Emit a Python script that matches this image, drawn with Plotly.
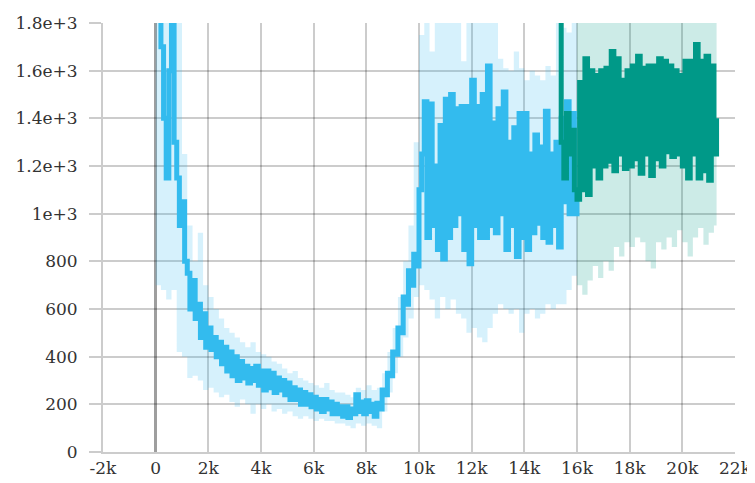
import plotly.graph_objects as go

# ---------------- data ----------------
blue_start, blue_step = 0, 100
blue_vals = [
    2000, 1900, 1700, 1400, 1150, 1600, 1850, 1300, 1150, 950,      # 0 - 900
    1050, 800, 750, 600, 720, 560, 620, 480, 580, 440,            # 1000 - 1900
    520, 430, 480, 400, 460, 370, 440, 340, 420, 320,             # 2000 - 2900
    400, 300, 380, 310, 360, 290, 350, 300, 360, 280,             # 3000 - 3900
    340, 260, 340, 270, 330, 250, 310, 260, 300, 240,             # 4000 - 4900
    290, 220, 270, 220, 260, 200, 250, 200, 240, 190,             # 5000 - 5900
    230, 180, 220, 170, 220, 180, 210, 160, 200, 160,             # 6000 - 6900
    190, 150, 190, 145, 180, 160, 240, 170, 210, 160,             # 7000 - 7900
    215, 170, 200, 150, 205, 180, 260, 240, 330, 320,             # 8000 - 8900
    420, 410, 520, 500, 650, 620, 760, 700, 830, 780,             # 9000 - 9900
    1100, 1250, 1470, 900, 1460, 950, 1200, 850, 1370, 810,       # 10000 - 10900
    1480, 900, 1500, 950, 1440, 1000, 1450, 850, 1450, 790,       # 11000 - 11900
    1560, 950, 1450, 900, 1500, 900, 1620, 950, 1380, 920,        # 12000 - 12900
    1440, 1000, 1510, 850, 1300, 950, 1360, 820, 1420, 900,       # 13000 - 13900
    1420, 850, 1250, 920, 1330, 960, 1280, 900, 1430, 880,        # 14000 - 14900
    1250, 950, 1300, 860, 1400, 1050, 1470, 1000, 1420, 1000,     # 15000 - 15900
    1100,                                                         # 16000
]

band_step = 200
blue_band_lo = [
    700, 680, 640, 680, 420, 400, 310, 320, 300, 260,             # 0 - 1800
    270, 250, 230, 240, 210, 190, 220, 200, 160, 200,             # 2000 - 3800
    180, 200, 170, 180, 160, 170, 150, 140, 150, 140,             # 4000 - 5800
    130, 140, 130, 130, 120, 120, 110, 100, 120, 110,             # 6000 - 7800
    120, 110, 100, 170, 250, 330, 400, 480, 560, 650,             # 8000 - 9800
    700, 680, 640, 560, 650, 600, 640, 580, 560, 500,             # 10000 - 11800
    520, 480, 460, 520, 580, 620, 600, 580, 600, 500,             # 12000 - 13800
    580, 600, 560, 580, 620, 600, 620, 620, 680, 740,             # 14000 - 15800
    760,                                                          # 16000
]
blue_band_hi = [
    2000, 2000, 2000, 2000, 2000, 1250, 950, 800, 920, 700,       # 0 - 1800
    650, 600, 560, 520, 500, 480, 460, 440, 460, 420,             # 2000 - 3800
    410, 400, 380, 370, 350, 330, 340, 310, 300, 290,             # 4000 - 5800
    280, 270, 290, 260, 250, 250, 240, 230, 270, 260,             # 6000 - 7800
    280, 260, 270, 330, 420, 520, 650, 800, 950, 1300,            # 8000 - 9800
    1750, 2000, 1680, 2000, 2000, 2000, 2000, 2000, 1640, 2000,   # 10000 - 11800
    2000, 2000, 2000, 2000, 2000, 1650, 1610, 1600, 1680, 1610,   # 12000 - 13800
    1560, 1600, 1580, 1560, 1620, 1580, 2000, 1780, 1760, 1800,   # 14000 - 15800
    1800,                                                         # 16000
]

green_start, green_step = 15300, 100
green_vals = [
    2000, 1300, 1150, 1420, 1250, 1350, 1100,                     # 15300 - 15900
    1060, 1550, 1100, 1650, 1080, 1600, 1200, 1580, 1150, 1600,   # 16000 - 16900
    1200, 1610, 1220, 1680, 1180, 1650, 1250, 1560, 1190, 1600,   # 17000 - 17900
    1200, 1620, 1230, 1660, 1170, 1610, 1250, 1620, 1160, 1620,   # 18000 - 18900
    1230, 1650, 1200, 1640, 1260, 1620, 1240, 1600, 1250, 1580,   # 19000 - 19900
    1200, 1640, 1150, 1640, 1250, 1710, 1150, 1640, 1180, 1660,   # 20000 - 20900
    1140, 1620, 1250, 1400,                                       # 21000 - 21300
]

green_band_start = 16000
green_band_lo = [
    700, 660, 720, 780, 730, 800, 760, 860, 820, 880,             # 16000 - 17800
    860, 900, 880, 800, 770, 880, 850, 900, 860, 930,             # 18000 - 19800
    880, 820, 900, 940, 870, 920, 950, 960,                       # 20000 - 21400
]
green_band_hi = [2000] * len(green_band_lo)

x_ticks = [-2000, 0, 2000, 4000, 6000, 8000, 10000, 12000, 14000, 16000, 18000, 20000, 22000]
x_labels = ["-2k", "0", "2k", "4k", "6k", "8k", "10k", "12k", "14k", "16k", "18k", "20k", "22k"]
y_ticks = [0, 200, 400, 600, 800, 1000, 1200, 1400, 1600, 1800]
y_labels = ["0", "200", "400", "600", "800", "1e+3", "1.2e+3", "1.4e+3", "1.6e+3", "1.8e+3"]

# ---------------- build ----------------
blue_x = [blue_start + i * blue_step for i in range(len(blue_vals))]
bband_x = [i * band_step for i in range(len(blue_band_lo))]
green_x = [green_start + i * green_step for i in range(len(green_vals))]
gband_x = [min(green_band_start + i * band_step, 21300) for i in range(len(green_band_lo))]

BLUE = "#33bbee"
GREEN = "#009988"

fig = go.Figure()
fig.add_trace(go.Scatter(x=bband_x, y=blue_band_lo, mode="lines", line=dict(width=0, shape="hv"),
                         hoverinfo="skip", showlegend=False))
fig.add_trace(go.Scatter(x=bband_x, y=blue_band_hi, mode="lines", line=dict(width=0, shape="hv"),
                         fill="tonexty", fillcolor="rgba(51,187,238,0.2)", hoverinfo="skip", showlegend=False))
fig.add_trace(go.Scatter(x=gband_x, y=green_band_lo, mode="lines", line=dict(width=0, shape="hv"),
                         hoverinfo="skip", showlegend=False))
fig.add_trace(go.Scatter(x=gband_x, y=green_band_hi, mode="lines", line=dict(width=0, shape="hv"),
                         fill="tonexty", fillcolor="rgba(0,153,136,0.2)", hoverinfo="skip", showlegend=False))
fig.add_trace(go.Scatter(x=blue_x, y=blue_vals, mode="lines", line=dict(color=BLUE, width=5, shape="hv"),
                         showlegend=False))
fig.add_trace(go.Scatter(x=green_x, y=green_vals, mode="lines", line=dict(color=GREEN, width=5, shape="hv"),
                         showlegend=False))

GRID = "rgba(0,0,0,0.2)"
FONT = dict(family="DejaVu Serif", size=17, color="#333333")

# the page body adds an 8px offset; the figure is sized so the plot lands where the reference has it
fig.update_layout(
    width=747, height=475,
    margin=dict(l=95, r=20, t=15, b=31, autoexpand=False),
    plot_bgcolor="white", paper_bgcolor="white",
    font=FONT,
    showlegend=False,
)
fig.update_xaxes(
    range=[-2000, 22000], tickvals=x_ticks, ticktext=x_labels,
    showgrid=True, gridcolor=GRID, gridwidth=2,
    zeroline=True, zerolinecolor="rgba(0,0,0,0.38)", zerolinewidth=3,
    showline=True, linecolor=GRID, linewidth=2,
    ticks="", layer="above traces", tickfont=FONT, automargin=False,
)
fig.update_yaxes(
    range=[0, 1800], tickvals=y_ticks, ticktext=y_labels,
    showgrid=True, gridcolor=GRID, gridwidth=2,
    zeroline=False,
    showline=True, linecolor=GRID, linewidth=2,
    ticks="outside", ticklen=12, tickcolor=GRID, tickwidth=2,
    layer="above traces", tickfont=FONT, ticklabelstandoff=8, automargin=False,
)

fig.write_html("out.html")
